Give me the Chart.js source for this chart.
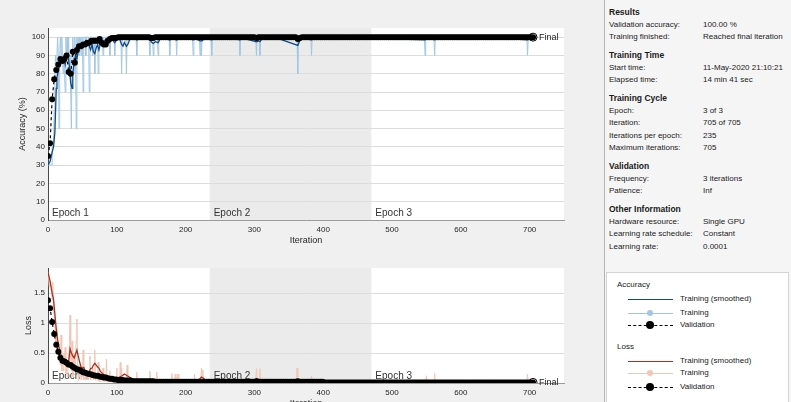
<!DOCTYPE html>
<html>
<head>
<meta charset="utf-8">
<script src="https://cdn.jsdelivr.net/npm/chart.js@4.4.1/dist/chart.umd.min.js"></script>
<style>
html, body { margin: 0; padding: 0; width: 791px; height: 402px; overflow: hidden; background: #f0f0f0;
  font-family: "Liberation Sans", Arial, sans-serif; }
#accChart { position: absolute; left: 0; top: 0; }
#lossChart { position: absolute; left: 0; top: 250px; }
#info { position: absolute; left: 604px; top: 0; width: 187px; height: 402px; background: #f5f5f5;
  border-left: 1px solid #b4b4b4; box-sizing: border-box; padding: 6px 0 0 4px;
  font-size: 8px; line-height: 12.5px; color: #1a1a1a; white-space: nowrap; }
#info .h { font-weight: bold; font-size: 8.5px; margin-top: 5.5px; }
#info .h:first-child { margin-top: 0; }
#info .r span { display: inline-block; width: 94px; }
#legend { position: absolute; left: 606px; top: 272px; width: 181px; height: 140px; background: #fff;
  border: 1px solid #d4d4d4; font-size: 8px; color: #1a1a1a; }
#legend div { position: absolute; height: 10px; line-height: 10px; white-space: nowrap; }
#legend .ln { position: absolute; left: 21px; top: 5px; width: 45px; border-top: 1px solid; }
#legend .dot { position: absolute; left: 40px; top: 2px; width: 6px; height: 6px; border-radius: 50%; }
#legend .txt { position: absolute; left: 73px; top: 0; }
</style>
</head>
<body>
<canvas id="accChart" width="600" height="252"></canvas>
<canvas id="lossChart" width="600" height="165"></canvas>

<div id="info">
  <div class="h">Results</div>
  <div class="r"><span>Validation accuracy:</span>100.00 %</div>
  <div class="r"><span>Training finished:</span>Reached final iteration</div>
  <div class="h">Training Time</div>
  <div class="r"><span>Start time:</span>11-May-2020 21:10:21</div>
  <div class="r"><span>Elapsed time:</span>14 min 41 sec</div>
  <div class="h">Training Cycle</div>
  <div class="r"><span>Epoch:</span>3 of 3</div>
  <div class="r"><span>Iteration:</span>705 of 705</div>
  <div class="r"><span>Iterations per epoch:</span>235</div>
  <div class="r"><span>Maximum iterations:</span>705</div>
  <div class="h">Validation</div>
  <div class="r"><span>Frequency:</span>3 iterations</div>
  <div class="r"><span>Patience:</span>Inf</div>
  <div class="h">Other Information</div>
  <div class="r"><span>Hardware resource:</span>Single GPU</div>
  <div class="r"><span>Learning rate schedule:</span>Constant</div>
  <div class="r"><span>Learning rate:</span>0.0001</div>
</div>

<div id="legend">
  <div style="left:10px; top:7px">Accuracy</div>
  <div style="left:0; top:21px; width:180px"><i class="ln" style="border-color:#0d4a86"></i><span class="txt">Training (smoothed)</span></div>
  <div style="left:0; top:35px; width:180px"><i class="ln" style="border-color:#a3c7e3"></i><i class="dot" style="background:#a3c7e3"></i><span class="txt">Training</span></div>
  <div style="left:0; top:47px; width:180px"><i class="ln" style="border-top:1.5px dashed #000"></i><i class="dot" style="background:#000; left:39px; top:1px; width:8px; height:8px"></i><span class="txt">Validation</span></div>
  <div style="left:10px; top:69px">Loss</div>
  <div style="left:0; top:83px; width:180px"><i class="ln" style="border-color:#a8301f"></i><span class="txt">Training (smoothed)</span></div>
  <div style="left:0; top:95px; width:180px"><i class="ln" style="border-color:#f2c6b4"></i><i class="dot" style="background:#f2c6b4"></i><span class="txt">Training</span></div>
  <div style="left:0; top:109px; width:180px"><i class="ln" style="border-top:1.5px dashed #000"></i><i class="dot" style="background:#000; left:39px; top:1px; width:8px; height:8px"></i><span class="txt">Validation</span></div>
</div>

<script>
// epochs and run info
const epochNames = ['Epoch 1', 'Epoch 2', 'Epoch 3'];
const epochStarts = [0, 235, 470];
const validationFrequency = 3;
const finalIteration = 705;
const finalAccuracy = 100;
const finalLoss = 0.01;

// training accuracy (per iteration, [iteration, %])
const trainAcc = [[0,30],[6,30],[6,40],[8,40],[9,60],[10,80],[11,90],[12,80],[13,90],[14,100],[15,90],[16,50],[17,90],
  [18,100],[19,90],[20,100],[21,90],[22,80],[23,90],[24,80],[25,70],[26,100],[27,90],[28,100],[29,90],[30,100],[31,80],
  [32,90],[33,70],[34,50],[35,90],[36,100],[37,90],[38,80],[39,100],[40,90],[41,50],[42,100],[43,90],[44,100],[45,90],
  [46,100],[47,100],[48,90],[49,100],[50,100],[51,70],[52,100],[54,100],[55,90],[56,100],[59,100],[60,70],[61,100],
  [64,100],[65,90],[66,100],[67,100],[68,80],[69,100],[72,100],[73,80],[74,100],[79,100],[80,90],[81,100],[89,100],
  [90,90],[91,100],[96,100],[97,90],[98,100],[106,100],[107,80],[108,100],[113,100],[114,80],[115,100],[128,100],
  [129,90],[130,100],[147,100],[148,90],[149,100],[152,100],[153,90],[154,100],[159,100],[160,90],[161,100],[176,100],
  [177,90],[178,100],[186,100],[187,90],[188,100],[210,100],[211,90],[212,100],[220,100],[221,90],[222,100],[223,90],
  [224,100],[237,100],[238,90],[239,100],[278,100],[279,90],[280,100],[302,100],[303,90],[304,100],[307,100],[308,90],
  [309,100],[362,100],[363,80],[364,100],[382,100],[383,90],[384,100],[547,100],[548,90],[549,100],[561,100],[562,90],
  [563,100],[696,100],[697,90],[698,100],[705,100]];

// smoothed training accuracy
const smoothAcc = [[0,30],[3,32],[6,37],[8,40],[10,48],[11,60],[12,72],[13,78],[15,82],[17,85],[19,88],[21,87],[23,89],
  [25,85],[27,90],[29,91],[31,84],[33,75],[35,72],[36,80],[38,86],[40,90],[42,88],[44,93],[46,95],[48,94],[50,96],[52,95],
  [54,97],[56,96],[58,97],[60,95],[62,93],[64,96],[66,92],[68,91],[70,94],[72,96],[74,93],[76,96],[78,98],[80,97],[82,98],
  [84,99],[86,98],[88,99],[90,98],[92,99],[95,98],[97,97],[99,98],[101,99],[104,99],[107,96],[109,95],[111,97],[114,95],
  [116,96],[119,99],[125,99.5],[129,98.5],[133,99.5],[140,99.8],[148,98.5],[151,97],[153,96.5],[156,97.5],[160,97],
  [163,99],[170,99.5],[177,98.5],[180,99.5],[187,98.5],[190,99.5],[200,99.8],[211,98.5],[215,99],[221,98],[224,98],
  [228,99.5],[238,98.5],[242,99.5],[260,99.8],[279,98.5],[283,99.5],[303,97.5],[306,98],[308,97.5],[312,99.5],[330,99.8],
  [363,95.5],[366,98],[370,99.5],[383,98.5],[387,99.5],[420,99.9],[548,98.5],[552,99.5],[562,98.5],[566,99.5],[640,99.9],
  [697,98.5],[701,99.5],[705,99.8]];

// validation accuracy, every 3 iterations
const valAcc = [35,42,66,77,82,85,88,87,88,90,81,80,92,86,93,95,95,96,96,97,97,98,98,98,98,99,97,96,96,98,99,99.5,99.5,99.5,
  100,100,100,100,100,100,100,100,100,100,100,100,100,100,100,100,99.5,99.5,100,100,
  100,100,100,100,100,100,100,100,100,100,100,100,100,100,100,100,100,100,100,100,
  100,100,100,100,100,100,100,100,100,100,100,100,100,100,100,100,100,100,100,100,
  100,100,100,100,100,100,100,99.5,100,100,100,100,100,100,100,100,100,100,100,100,
  100,100,100,100,100,100,100,99,99.5,100,100,100,100,100,100,100,100,100,100,100,
  100,100,100,100,100,100,100,100,100,100,100,100,100,100,100,100,100,100,100,100,
  100,100,100,100,100,100,100,100,100,100,100,100,100,100,100,100,100,100,100,100,
  100,100,100,100,100,100,100,100,100,100,100,100,100,100,100,100,100,100,100,100,
  100,100,100,100,100,100,100,100,100,100,100,100,100,100,100,100,100,100,100,100,
  100,100,100,100,100,100,100,100,100,100,100,100,100,100,100,100,100,100,100,100,
  100,100];

// training loss
const trainLoss = [[0,1.85],[2,1.6],[4,1.7],[6,1.4],[7,1.68],[8,1.2],[10,1.0],[11,0.7],[12,0.9],[13,0.6],[14,0.5],[15,0.7],
  [16,0.4],[17,0.5],[18,0.3],[19,0.8],[20,0.2],[21,0.4],[22,0.2],[23,0.5],[24,0.3],[25,0.6],[26,0.15],[27,0.3],[28,0.1],
  [29,0.35],[30,0.3],[31,0.6],[32,1.13],[33,0.4],[34,0.2],[35,0.7],[36,0.1],[37,0.3],[38,0.5],[39,0.2],[40,0.4],[41,0.7],
  [42,1.07],[43,0.2],[44,0.05],[45,0.3],[46,0.1],[47,0.2],[48,0.05],[49,0.2],[50,0.1],[51,0.55],[52,0.05],[54,0.1],
  [55,0.05],[57,0.2],[58,0.05],[60,0.1],[61,0.45],[62,0.05],[64,0.1],[65,0.25],[66,0.05],[67,0.2],[68,0.55],[69,0.05],
  [72,0.05],[73,0.35],[74,0.03],[79,0.03],[80,0.25],[81,0.03],[84,0.03],[85,0.4],[86,0.02],[89,0.02],[90,0.2],[91,0.02],
  [99,0.02],[100,0.25],[101,0.02],[104,0.02],[105,0.34],[106,0.02],[107,0.25],[108,0.02],[114,0.02],[115,0.3],[116,0.02],
  [128,0.02],[129,0.18],[130,0.02],[147,0.02],[148,0.2],[149,0.02],[157,0.02],[158,0.18],[159,0.02],[179,0.01],[180,0.16],
  [181,0.01],[184,0.01],[185,0.15],[186,0.01],[188,0.01],[189,0.15],[190,0.01],[212,0.01],[213,0.15],[214,0.01],[222,0.01],
  [223,0.25],[224,0.02],[225,0.22],[226,0.01],[279,0.01],[280,0.08],[281,0.01],[302,0.01],[303,0.24],[304,0.02],[307,0.02],
  [308,0.24],[309,0.01],[361,0.01],[362,0.25],[363,0.1],[364,0.01],[382,0.01],[383,0.12],[384,0.01],[549,0.01],[550,0.12],
  [551,0.01],[561,0.01],[562,0.16],[563,0.01],[696,0.01],[697,0.15],[698,0.01],[705,0.01]];

// smoothed training loss
const smoothLoss = [[0,1.85],[3,1.7],[6,1.5],[8,1.4],[10,1.15],[12,0.9],[14,0.72],[16,0.6],[18,0.5],[20,0.42],[22,0.36],
  [24,0.33],[26,0.3],[28,0.28],[30,0.35],[32,0.57],[34,0.5],[36,0.45],[38,0.42],[40,0.48],[42,0.55],[44,0.45],[46,0.35],
  [48,0.27],[50,0.25],[52,0.26],[54,0.2],[56,0.18],[58,0.17],[60,0.2],[62,0.24],[64,0.25],[66,0.3],[68,0.33],[70,0.3],
  [72,0.27],[74,0.25],[76,0.2],[78,0.17],[80,0.15],[83,0.13],[86,0.12],[90,0.08],[95,0.07],[100,0.08],[104,0.1],[108,0.12],
  [111,0.15],[114,0.13],[118,0.1],[122,0.07],[128,0.05],[133,0.05],[140,0.04],[148,0.06],[152,0.04],[158,0.05],[165,0.03],
  [180,0.04],[185,0.03],[190,0.04],[200,0.02],[213,0.03],[218,0.04],[223,0.1],[226,0.08],[230,0.03],[240,0.02],[280,0.02],
  [300,0.02],[303,0.07],[306,0.06],[310,0.04],[315,0.02],[360,0.02],[363,0.06],[366,0.04],[370,0.02],[383,0.03],[390,0.01],
  [550,0.02],[562,0.03],[570,0.01],[697,0.03],[705,0.02]];

// validation loss, every 3 iterations
const valLoss = [1.38,1.25,1.02,0.82,0.64,0.52,0.42,0.37,0.36,0.34,0.31,0.30,0.27,0.25,0.23,0.22,0.20,0.18,0.17,0.16,
  0.15,0.14,0.13,0.12,0.12,0.11,0.10,0.09,0.09,0.08,0.07,0.07,0.06,0.06,
  0.05,0.05,0.05,0.04,0.04,0.04,0.04,0.03,0.03,0.03,0.03,0.03,0.03,0.03,0.03,0.03,0.03,0.03,0.02,0.02,
  0.02,0.02,0.02,0.02,0.02,0.02,0.02,0.02,0.02,0.02,0.02,0.02,0.02,0.02,0.02,0.02,0.02,0.02,0.02,0.02,
  0.02,0.02,0.02,0.02,0.02,0.02,0.02,0.02,0.02,0.02,0.02,0.02,0.02,0.02,0.02,0.02,0.02,0.02,0.02,0.02,
  0.02,0.02,0.02,0.02,0.02,0.02,0.02,0.03,0.02,0.02,0.02,0.02,0.02,0.02,0.02,0.02,0.02,0.02,0.02,0.02,
  0.02,0.02,0.02,0.02,0.02,0.02,0.02,0.03,0.02,0.02,0.02,0.02,0.02,0.02,0.02,0.02,0.02,0.02,0.02,0.02,
  0.01,0.01,0.01,0.01,0.01,0.01,0.01,0.01,0.01,0.01,0.01,0.01,0.01,0.01,0.01,0.01,0.01,0.01,0.01,0.01,
  0.01,0.01,0.01,0.01,0.01,0.01,0.01,0.01,0.01,0.01,0.01,0.01,0.01,0.01,0.01,0.01,0.01,0.01,0.01,0.01,
  0.01,0.01,0.01,0.01,0.01,0.01,0.01,0.01,0.01,0.01,0.01,0.01,0.01,0.01,0.01,0.01,0.01,0.01,0.01,0.01,
  0.01,0.01,0.01,0.01,0.01,0.01,0.01,0.01,0.01,0.01,0.01,0.01,0.01,0.01,0.01,0.01,0.01,0.01,0.01,0.01,
  0.01,0.01,0.01,0.01,0.01,0.01,0.01,0.01,0.01,0.01,0.01,0.01,0.01,0.01,0.01,0.01,0.01,0.01,0.01,0.01,
  0.01,0.01];

const FONT = '"Liberation Sans", Arial, sans-serif';
const toPoints = pairs => pairs.map(p => ({x: p[0], y: p[1]}));
const valPoints = vals => vals.map((v, i) => ({x: i * validationFrequency, y: v}));

// shaded epoch 2, epoch names, "Final" tag
const epochPlugin = {
  id: 'epochs',
  beforeDraw(chart) {
    const {ctx, chartArea: a, scales: {x}} = chart;
    ctx.save();
    ctx.fillStyle = '#ffffff';
    ctx.fillRect(a.left, a.top, a.width, a.height);
    const x1 = x.getPixelForValue(epochStarts[1]);
    const x2 = x.getPixelForValue(epochStarts[2]);
    ctx.fillStyle = '#ebebeb';
    ctx.fillRect(x1, a.top, x2 - x1, a.height);
    ctx.restore();
  },
  beforeDatasetsDraw(chart) {
    const {ctx, chartArea: a, scales: {x}} = chart;
    ctx.save();
    ctx.font = '10px ' + FONT;
    ctx.fillStyle = '#333';
    ctx.textBaseline = 'bottom';
    epochNames.forEach((name, i) => {
      ctx.fillText(name, x.getPixelForValue(epochStarts[i]) + 4, a.bottom - 2);
    });
    ctx.restore();
  },
  afterDatasetsDraw(chart) {
    const {ctx, scales: {x, y}} = chart;
    const fy = chart.options.finalValue;
    ctx.save();
    ctx.font = '9px ' + FONT;
    ctx.fillStyle = '#222';
    ctx.textBaseline = 'middle';
    ctx.fillText('Final', x.getPixelForValue(finalIteration) + 6, y.getPixelForValue(fy));
    ctx.restore();
  }
};

function makeOptions(yMax, yStep, yTitle, finalValue) {
  return {
    responsive: false,
    animation: false,
    events: [],
    finalValue: finalValue,
    layout: {padding: {top: 0, right: 36, left: 0, bottom: 0}},
    plugins: {legend: {display: false}, tooltip: {enabled: false}},
    elements: {line: {tension: 0}},
    scales: {
      x: {
        type: 'linear', min: 0, max: 750,
        afterFit: s => { s.height = 32; },
        ticks: {stepSize: 100, includeBounds: false, padding: 5, color: '#262626', font: {family: FONT, size: 8}, maxRotation: 0},
        grid: {display: false, drawTicks: false},
        border: {display: true, color: '#9a9a9a'},
        title: {display: true, text: 'Iteration', color: '#262626', font: {family: FONT, size: 9}, padding: {top: 0, bottom: 6}}
      },
      y: {
        min: 0, max: yMax,
        afterFit: s => { s.width = 48; },
        ticks: {stepSize: yStep, includeBounds: false, padding: 3, color: '#262626', font: {family: FONT, size: 8},
                callback: v => String(+v.toFixed(2))},
        grid: {color: '#dcdcdc', drawTicks: false},
        border: {display: true, color: '#4a4a4a'},
        title: {display: true, text: yTitle, color: '#262626', font: {family: FONT, size: 9}, padding: {top: 17, bottom: 0}}
      }
    }
  };
}

function makeDatasets(train, smooth, val, finalValue, smoothColor, trainColor) {
  return [
    {data: [{x: finalIteration, y: finalValue}], showLine: false, pointRadius: 4,
     pointBackgroundColor: 'rgba(255,255,255,0)', pointBorderColor: '#000', pointBorderWidth: 1, order: 0},
    {data: valPoints(val), borderColor: '#000', borderWidth: 1.2, borderDash: [3, 3],
     pointRadius: 3, pointBackgroundColor: '#000', pointBorderWidth: 0, order: 1},
    {data: toPoints(smooth), borderColor: smoothColor, borderWidth: 1.3, pointRadius: 0, order: 2},
    {data: toPoints(train), borderColor: trainColor, borderWidth: 1, pointRadius: 0, order: 3}
  ];
}

const accOptions = makeOptions(105, 10, 'Accuracy (%)', finalAccuracy);
accOptions.layout.padding.top = 28;
new Chart(document.getElementById('accChart').getContext('2d'), {
  type: 'line',
  data: {datasets: makeDatasets(trainAcc, smoothAcc, valAcc, finalAccuracy, '#0d4a86', '#a3c7e3')},
  options: accOptions,
  plugins: [epochPlugin]
});

const lossOptions = makeOptions(1.92, 0.5, 'Loss', finalLoss);
lossOptions.layout.padding.top = 18;
lossOptions.scales.y.title.padding = {top: 23, bottom: 0};
new Chart(document.getElementById('lossChart').getContext('2d'), {
  type: 'line',
  data: {datasets: makeDatasets(trainLoss, smoothLoss, valLoss, finalLoss, '#a8301f', '#f2c6b4')},
  options: lossOptions,
  plugins: [epochPlugin]
});
</script>
</body>
</html>
